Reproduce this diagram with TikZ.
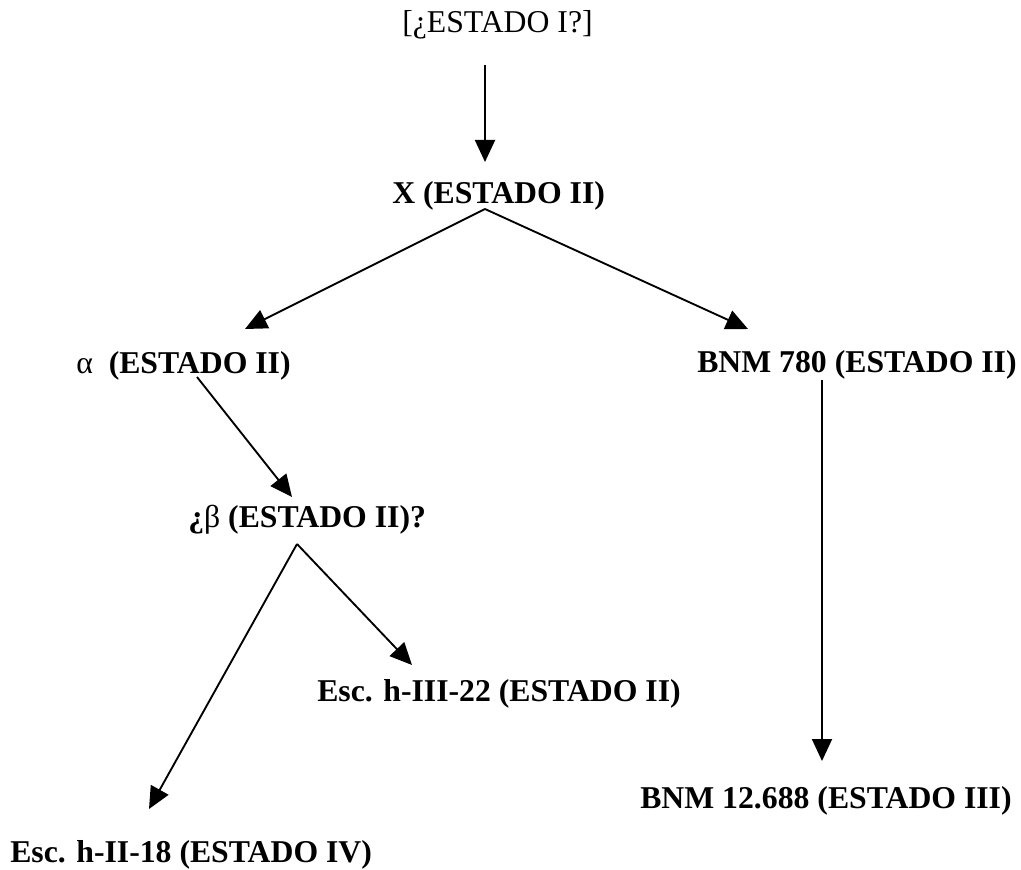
\documentclass[tikz,border=0pt]{standalone}
\usepackage{fontspec}
\setmainfont{Liberation Serif}
\usetikzlibrary{arrows.meta}
\begin{document}
\begin{tikzpicture}[x=0.75pt,y=-0.75pt,
  lbl/.style={anchor=base west,inner sep=0pt,font=\fontsize{23.8pt}{28pt}\selectfont},
  arr/.style={line width=1.4pt,-{Triangle[length=16.5pt,width=15pt]}}]
\useasboundingbox (0,0) rectangle (1021,870);
% texts
\node[lbl] (top) at (402,33) {[¿ESTADO I?]};
\node[lbl] (x) at (392,204) {\textbf{X (ESTADO II)}};
\node[lbl] (alpha) at (76,373) {α\ \ \textbf{(ESTADO II)}};
\node[lbl] (bnm780) at (697,372) {\textbf{BNM 780 (ESTADO II)}};
\node[lbl] (beta) at (188,527) {\textbf{¿}β \textbf{(ESTADO II)?}};
\node[lbl] (esc22) at (317,701) {\textbf{Esc. h-III-22 (ESTADO II)}};
\node[lbl] (bnm12) at (640,808) {\textbf{BNM 12.688 (ESTADO III)}};
\node[lbl] (esc18) at (10,862) {\textbf{Esc. h-II-18 (ESTADO IV)}};
% connector end points
\coordinate (topS) at (485,65);
\coordinate (xN) at (485,162);
\coordinate (xS) at (485,209);
\coordinate (alphaN) at (245,329);
\coordinate (bnmN) at (748,329);
\coordinate (alphaS) at (197,377);
\coordinate (betaN) at (292,497);
\coordinate (betaS) at (297,544);
\coordinate (esc22N) at (412,665);
\coordinate (esc18N) at (149,809);
\coordinate (bnmS) at (822,380);
\coordinate (bnm12N) at (822,761);
% connectors
\draw[arr] (topS) -- (xN);
\draw[arr] (xS) -- (alphaN);
\draw[arr] (xS) -- (bnmN);
\draw[arr] (alphaS) -- (betaN);
\draw[arr] (betaS) -- (esc22N);
\draw[arr] (betaS) -- (esc18N);
\draw[arr] (bnmS) -- (bnm12N);
\end{tikzpicture}
\end{document}
